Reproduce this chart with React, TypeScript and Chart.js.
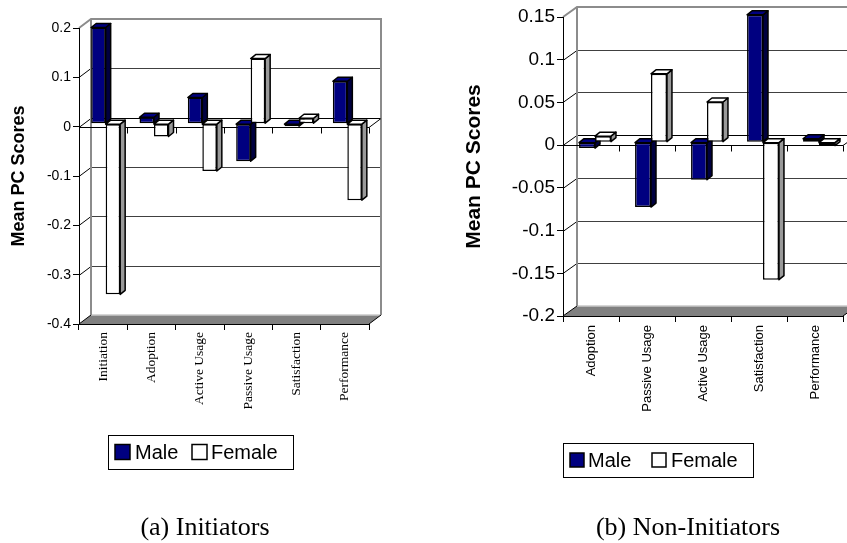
import React, { useEffect, useRef } from "react";
import { Chart, registerables } from "chart.js";

Chart.register(...registerables);

// (a) Initiators
const INIT_CATEGORIES = ["Initiation", "Adoption", "Active Usage", "Passive Usage", "Satisfaction", "Performance"];
const INIT_MALE = [0.195, 0.013, 0.053, -0.076, -0.005, 0.086];
const INIT_FEMALE = [-0.346, -0.026, -0.096, 0.132, 0.011, -0.155];
const INIT_TICKS = [0.2, 0.1, 0, -0.1, -0.2, -0.3, -0.4];

// (b) Non-Initiators
const NON_CATEGORIES = ["Adoption", "Passive Usage", "Active Usage", "Satisfaction", "Performance"];
const NON_MALE = [-0.007, -0.076, -0.044, 0.149, 0.004];
const NON_FEMALE = [0.007, 0.08, 0.047, -0.161, -0.004];
const NON_TICKS = [0.15, 0.1, 0.05, 0, -0.05, -0.1, -0.15, -0.2];

const SERIES = ["Male", "Female"];
const Y_TITLE = "Mean PC Scores";
const CAPTIONS = ["(a) Initiators", "(b) Non-Initiators"];

const SANS = '"Liberation Sans", Arial, Helvetica, sans-serif';
const SERIF = '"Liberation Serif", "Times New Roman", Times, serif';

const SERIES_STYLE = [
  { backgroundColor: "#000080", sideColor: "#000040", topColor: "#000080" },
  { backgroundColor: "#ffffff", sideColor: "#999999", topColor: "#ffffff" },
];

// Excel-like 3D frame: back wall, floor, side-wall lines and extruded bar faces
const box3d = {
  id: "box3d",
  beforeDraw(chart: any, _args: any, o: any) {
    const { ctx, chartArea: a, scales } = chart;
    const ys = scales.y;
    const xs = scales.x;
    const { dx, dy } = o;
    const L = a.left, R = a.right, T = a.top, B = a.bottom;
    ctx.save();
    ctx.lineCap = "butt";

    // floor
    ctx.fillStyle = "#808080";
    ctx.beginPath();
    ctx.moveTo(L, B);
    ctx.lineTo(R, B);
    ctx.lineTo(R + dx, B + dy);
    ctx.lineTo(L + dx, B + dy);
    ctx.closePath();
    ctx.fill();

    // back-wall grid lines and their side-wall continuation
    const vals = ys.ticks.map((t: any) => t.value);
    const vmin = Math.min(...vals), vmax = Math.max(...vals);
    for (const v of vals) {
      if (v === vmin || v === vmax) continue;
      const py = Math.round(ys.getPixelForValue(v)) + 0.5;
      ctx.lineWidth = 1;
      ctx.strokeStyle = v === 0 ? "#000" : "#404040";
      ctx.beginPath();
      ctx.moveTo(L + dx, py + dy);
      ctx.lineTo(R + dx, py + dy);
      ctx.stroke();
      ctx.strokeStyle = "#000";
      ctx.beginPath();
      ctx.moveTo(L, py);
      ctx.lineTo(L + dx, py + dy);
      ctx.stroke();
    }

    // floor edges
    ctx.strokeStyle = "#c8c8c8";
    ctx.lineWidth = 1.5;
    ctx.beginPath();
    ctx.moveTo(L + dx, B + dy);
    ctx.lineTo(R + dx, B + dy);
    ctx.stroke();
    ctx.strokeStyle = "#000";
    ctx.lineWidth = 1;
    ctx.beginPath();
    ctx.moveTo(L, B);
    ctx.lineTo(L + dx, B + dy);
    ctx.moveTo(R, B);
    ctx.lineTo(R + dx, B + dy);
    ctx.stroke();

    // wall outline
    ctx.strokeStyle = "#8c8c8c";
    ctx.lineWidth = 2;
    ctx.beginPath();
    ctx.moveTo(L, T);
    ctx.lineTo(L + dx, T + dy);
    ctx.lineTo(R + dx, T + dy);
    ctx.lineTo(R + dx, B + dy);
    ctx.moveTo(L + dx, T + dy);
    ctx.lineTo(L + dx, B + dy);
    ctx.stroke();

    // category axis crossing at zero on the front plane
    const y0 = Math.round(ys.getPixelForValue(0)) + 0.5;
    const step = xs.getPixelForValue(1) - xs.getPixelForValue(0);
    ctx.strokeStyle = "#000";
    ctx.lineWidth = 1;
    ctx.beginPath();
    ctx.moveTo(L, y0);
    ctx.lineTo(R, y0);
    ctx.lineTo(R + dx, y0 + dy);
    const n = chart.data.labels.length;
    for (let i = 0; i <= n; i++) {
      const bx = Math.round(xs.getPixelForValue(i) - step / 2) + 0.5;
      ctx.moveTo(bx, y0);
      ctx.lineTo(bx, y0 + 6);
    }
    ctx.stroke();
    ctx.restore();
  },
  beforeDatasetsDraw(chart: any, _args: any, o: any) {
    const ctx = chart.ctx;
    ctx.save();
    ctx.translate(o.shiftX, o.shiftY);
    const { depthX: ex, depthY: ey } = o;
    const metas = chart.getSortedVisibleDatasetMetas();
    const n = chart.data.labels.length;
    ctx.lineWidth = 1.5;
    ctx.lineJoin = "round";
    ctx.strokeStyle = "#000";
    for (let i = 0; i < n; i++) {
      for (const meta of metas) {
        const ds = chart.data.datasets[meta.index];
        const el = meta.data[i];
        const { x, y, base, width } = el.getProps(["x", "y", "base", "width"], true);
        const l = x - width / 2, r = x + width / 2;
        const top = Math.min(y, base), bot = Math.max(y, base);
        // right side face
        ctx.fillStyle = ds.sideColor;
        ctx.beginPath();
        ctx.moveTo(r, top);
        ctx.lineTo(r + ex, top + ey);
        ctx.lineTo(r + ex, bot + ey);
        ctx.lineTo(r, bot);
        ctx.closePath();
        ctx.fill();
        ctx.stroke();
        // top face
        ctx.fillStyle = ds.topColor;
        ctx.beginPath();
        ctx.moveTo(l, top);
        ctx.lineTo(l + ex, top + ey);
        ctx.lineTo(r + ex, top + ey);
        ctx.lineTo(r, top);
        ctx.closePath();
        ctx.fill();
        ctx.stroke();
      }
    }
    // translation stays active while the front faces are drawn
  },
  afterDatasetsDraw(chart: any) {
    chart.ctx.restore();
  },
};

// boxed legend below the plot
const boxLegend = {
  id: "boxLegend",
  afterDraw(chart: any, _args: any, o: any) {
    const ctx = chart.ctx;
    ctx.save();
    ctx.fillStyle = "#fff";
    ctx.fillRect(o.x, o.y, o.w, o.h);
    ctx.strokeStyle = "#000";
    ctx.lineWidth = 1;
    ctx.strokeRect(o.x + 0.5, o.y + 0.5, o.w, o.h);
    const cy = o.y + o.h / 2;
    chart.data.datasets.forEach((ds: any, i: number) => {
      const it = o.items[i];
      ctx.fillStyle = ds.backgroundColor;
      ctx.fillRect(it.sx, cy - o.sq / 2, o.sq, o.sq);
      ctx.lineWidth = 1.5;
      ctx.strokeStyle = "#000";
      ctx.strokeRect(it.sx, cy - o.sq / 2, o.sq, o.sq);
      ctx.fillStyle = "#000";
      ctx.font = o.font;
      ctx.textBaseline = "middle";
      ctx.textAlign = "left";
      ctx.fillText(ds.label, it.tx, cy + 1);
    });
    ctx.restore();
  },
};

function makeConfig(spec: any) {
  const values = [spec.male, spec.female];
  return {
    type: "bar",
    data: {
      labels: spec.categories,
      datasets: SERIES.map((name, i) => ({
        label: name,
        data: values[i],
        ...SERIES_STYLE[i],
        borderColor: "#000",
        borderWidth: 1.5,
        borderSkipped: false,
        categoryPercentage: spec.catPct,
        barPercentage: 1,
        clip: false,
      })),
    },
    plugins: [box3d, boxLegend],
    options: {
      animation: false,
      responsive: true,
      maintainAspectRatio: false,
      devicePixelRatio: 1,
      layout: { padding: { left: 0, top: spec.padTop, right: spec.padRight, bottom: 0 } },
      plugins: {
        legend: { display: false },
        tooltip: { enabled: false },
        box3d: spec.frame,
        boxLegend: spec.legend,
      },
      scales: {
        x: {
          afterFit: (s: any) => {
            s.height = spec.xHeight;
          },
          ticks: {
            autoSkip: false,
            minRotation: 90,
            maxRotation: 90,
            padding: spec.catPad,
            color: "#000",
            font: { family: spec.catFamily, size: spec.catSize },
          },
          grid: { drawOnChartArea: false, drawTicks: true, tickLength: 6, color: "#000", offset: true },
          border: { display: true, color: "#000", width: 1 },
        },
        y: {
          min: spec.ticks[spec.ticks.length - 1],
          max: spec.ticks[0],
          afterBuildTicks: (s: any) => {
            s.ticks = spec.ticks.map((v: number) => ({ value: v }));
          },
          afterFit: (s: any) => {
            s.width = spec.axisWidth;
          },
          ticks: {
            callback: (v: any) => String(v),
            padding: 2,
            color: "#000",
            font: { family: SANS, size: spec.tickSize },
          },
          grid: { drawOnChartArea: false, drawTicks: true, tickLength: 6, color: "#000" },
          border: { display: true, color: "#000", width: 1 },
          title: {
            display: true,
            text: Y_TITLE,
            color: "#000",
            font: { family: SANS, size: spec.titleSize, weight: "bold" },
            padding: { top: spec.titlePad, bottom: 0 },
          },
        },
      },
    },
  };
}

const LEFT_SPEC = {
  categories: INIT_CATEGORIES,
  male: INIT_MALE,
  female: INIT_FEMALE,
  ticks: INIT_TICKS,
  catPct: 0.6,
  padTop: 28,
  padRight: 51,
  xHeight: 219,
  axisWidth: 79,
  tickSize: 14,
  titleSize: 18,
  titlePad: 8,
  catFamily: SERIF,
  catSize: 13.5,
  catPad: 2,
  frame: { dx: 12, dy: -9, shiftX: 2.5, shiftY: -3, depthX: 5, depthY: -4 },
  legend: {
    x: 108, y: 435, w: 185, h: 34, sq: 15,
    items: [{ sx: 115, tx: 135 }, { sx: 192, tx: 211 }],
    font: `20px ${SANS}`,
  },
};

const RIGHT_SPEC = {
  categories: NON_CATEGORIES,
  male: NON_MALE,
  female: NON_FEMALE,
  ticks: NON_TICKS,
  catPct: 0.57,
  padTop: 17,
  padRight: 4,
  xHeight: 227,
  axisWidth: 143,
  tickSize: 19,
  titleSize: 21,
  titlePad: 42,
  catFamily: SANS,
  catSize: 13,
  catPad: 3,
  frame: { dx: 14, dy: -10, shiftX: 4, shiftY: -3, depthX: 5, depthY: -4 },
  legend: {
    x: 143, y: 443, w: 190, h: 34, sq: 14,
    items: [{ sx: 150, tx: 168 }, { sx: 232, tx: 251 }],
    font: `20px ${SANS}`,
  },
};

function Panel({ left, width, spec }: { left: number; width: number; spec: any }) {
  const ref = useRef<HTMLCanvasElement | null>(null);
  useEffect(() => {
    if (!ref.current) return;
    const chart = new Chart(ref.current, makeConfig(spec) as any);
    return () => chart.destroy();
  }, [spec]);
  return (
    <div style={{ position: "absolute", left, top: 0, width, height: 543 }}>
      <canvas ref={ref} />
    </div>
  );
}

const captionStyle = (center: number): React.CSSProperties => ({
  position: "absolute",
  left: center - 200,
  width: 400,
  top: 510,
  textAlign: "center",
  fontFamily: SERIF,
  fontSize: 26,
  lineHeight: "34px",
  color: "#000",
  whiteSpace: "nowrap",
});

export default function App() {
  return (
    <div
      style={{
        position: "absolute",
        left: 0,
        top: 0,
        width: 847,
        height: 543,
        overflow: "hidden",
        background: "#fff",
      }}
    >
      <Panel left={0} width={420} spec={LEFT_SPEC} />
      <Panel left={420} width={427} spec={RIGHT_SPEC} />
      <div style={captionStyle(205)}>{CAPTIONS[0]}</div>
      <div style={captionStyle(688)}>{CAPTIONS[1]}</div>
    </div>
  );
}
